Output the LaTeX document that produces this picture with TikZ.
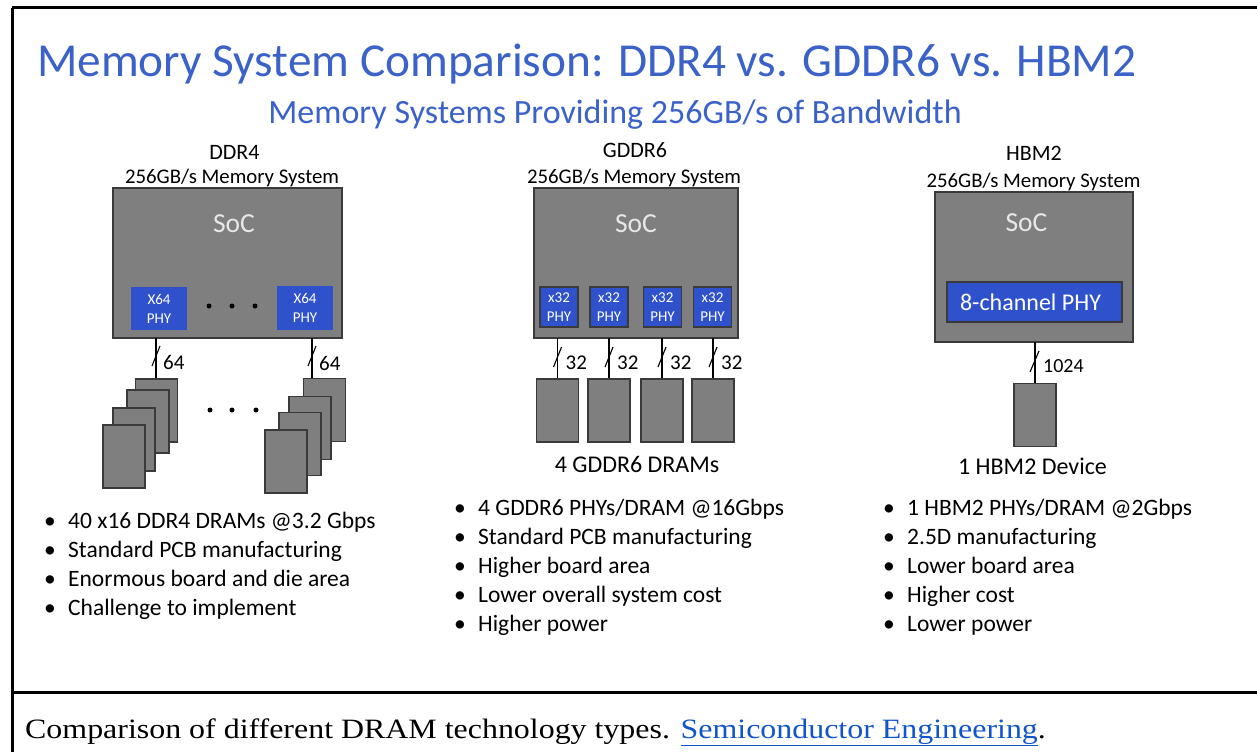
\documentclass[tikz,border=0pt]{standalone}
\usepackage{fontspec}
\setmainfont{Carlito}
\newfontfamily\capfont{Liberation Serif}[FakeStretch=1.14]
\definecolor{titleblue}{HTML}{3A62C8}
\definecolor{phyblue}{HTML}{2F52CC}
\definecolor{chipgray}{HTML}{7F7F7F}
\definecolor{edgegray}{HTML}{3A3A3A}
\definecolor{socword}{HTML}{E8E8E8}
\definecolor{linkblue}{HTML}{1155CC}
\newcommand{\fsz}[1]{\fontsize{#1}{#1}\selectfont}
\tikzset{
  frameline/.style={line width=3pt, black},
  socbox/.style={draw=edgegray, fill=chipgray, line width=1.4pt, inner sep=0pt},
  phybox/.style={draw=edgegray, fill=phyblue, line width=1.2pt, inner sep=0pt,
    text=white, align=center, font=\fontsize{15}{19}\selectfont},
  phyplain/.style={phybox, draw=none},
  drambox/.style={draw=edgegray, fill=chipgray, line width=1.4pt, inner sep=0pt,
    minimum width=42pt, minimum height=63pt},
  bus/.style={line width=1.2pt, black},
  slashmark/.style={line width=1.1pt, black},
  buslabel/.style={inner sep=0pt, anchor=west, font=\fsz{21}},
  txt/.style={inner sep=0pt, anchor=base},
  bulline/.style={inner sep=0pt, anchor=base west, font=\fsz{23.5}},
  socword/.style={inner sep=0pt, anchor=base, text=socword, font=\fsz{27.5}},
  dotmark/.style={circle, fill=black, inner sep=0pt, minimum size=5pt},
}
\newcommand{\bul}[1]{\makebox[24pt][l]{\textbullet}#1}
\begin{document}
\begin{tikzpicture}[x=1pt,y=-1pt]
\useasboundingbox (0,0) rectangle (1257,752);
\fill[white] (0,0) rectangle (1257,752);

% outer frame and caption separator
\draw[frameline] (12,8) -- (1257,8);
\draw[frameline] (12,8) -- (12,752);
\draw[frameline] (12,692) -- (1257,692);

% headings
\node[txt, anchor=base west, text=titleblue, font=\fsz{47.3}] (title) at (37,77)
  {Memory System Comparison: DDR4 vs. GDDR6 vs. HBM2};
\node[txt, text=titleblue, font=\fsz{34}] (subtitle) at (615,123)
  {Memory Systems Providing 256GB/s of Bandwidth};

% ---------------- DDR4 ----------------
\node[txt, font=\fsz{22}] (ddrname) at (234.5,159.5) {DDR4};
\node[txt, font=\fsz{20.8}] (ddrsys) at (232,183.5) {256GB/s Memory System};
\node[socbox, minimum width=229pt, minimum height=150pt] (ddrsoc) at (227.5,263) {};
\node[socword] (ddrsocw) at (234,232) {SoC};
\node[phyplain, minimum width=56pt, minimum height=43pt] (ddrphyA) at (159,308.5) {X64\\PHY};
\node[phyplain, minimum width=56pt, minimum height=44pt] (ddrphyB) at (305,308) {X64\\PHY};
\foreach \x [count=\i] in {209,232,255}
  \node[dotmark] (ddrdotA\i) at (\x,306) {};

% left DRAM stack, back to front
\node[drambox] (ddrA1) at (156.5,410.5) {};
\node[drambox] (ddrA2) at (148,421.5) {};
\node[drambox] (ddrA3) at (134,439.5) {};
\node[drambox] (ddrA4) at (124,456.5) {};
% right DRAM stack, back to front
\node[drambox] (ddrB1) at (324.5,410) {};
\node[drambox] (ddrB2) at (310,428) {};
\node[drambox] (ddrB3) at (300,444) {};
\node[drambox] (ddrB4) at (286,461.5) {};
\foreach \x [count=\i] in {210,232,256}
  \node[dotmark] (ddrdotB\i) at (\x,410) {};

\coordinate (ddrbusA) at (156,338);
\coordinate (ddrbusB) at (312,338);
\draw[bus] (ddrbusA) -- (ddrbusA |- ddrA1.north);
\draw[bus] (ddrbusB) -- (ddrbusB |- ddrB1.north);
\draw[slashmark] (152,366) -- (160,346);
\draw[slashmark] (308,366) -- (316,346);
\node[buslabel] (ddrwA) at (163,362.5) {64};
\node[buslabel] (ddrwB) at (319,363.5) {64};

\foreach \t [count=\i] in {40 x16 DDR4 DRAMs @3.2 Gbps, Standard PCB manufacturing,
  Enormous board and die area, Challenge to implement}
  \node[bulline] (ddrpt\i) at (44,{528+29*(\i-1)}) {\bul{\t}};

% ---------------- GDDR6 ----------------
\node[txt, font=\fsz{22}] (gdname) at (635,157.5) {GDDR6};
\node[txt, font=\fsz{20.8}] (gdsys) at (634,183.5) {256GB/s Memory System};
\node[socbox, minimum width=204pt, minimum height=150pt] (gdsoc) at (636,263) {};
\node[socword] (gdsocw) at (636,232) {SoC};
\foreach \x [count=\i] in {559,609,662.5,712.5}{
  \node[phybox, minimum width=38pt, minimum height=40pt] (gdphy\i) at (\x,307) {x32\\PHY};
}
\foreach \x [count=\i] in {557.5,609,662,713}{
  \node[drambox] (gddram\i) at (\x,410.5) {};
  \coordinate (gdbus\i) at (\x,338);
  \draw[bus] (gdbus\i) -- (gddram\i.north);
  \draw[slashmark] (\x-4,367) -- (\x+4,347);
  \node[buslabel] (gdw\i) at (\x+8,362.5) {32};
}
\node[txt, font=\fsz{24}] (gdcount) at (637,472) {4 GDDR6 DRAMs};

\foreach \t [count=\i] in {4 GDDR6 PHYs/DRAM @16Gbps, Standard PCB manufacturing,
  Higher board area, Lower overall system cost, Higher power}
  \node[bulline] (gdpt\i) at (454,{515+29.2*(\i-1)}) {\bul{\t}};

% ---------------- HBM2 ----------------
\node[txt, font=\fsz{22}] (hbname) at (1034,160.5) {HBM2};
\node[txt, font=\fsz{20.8}] (hbsys) at (1033.5,187.5) {256GB/s Memory System};
\node[socbox, minimum width=198pt, minimum height=150pt] (hbsoc) at (1034,267) {};
\node[socword] (hbsocw) at (1026.5,231) {SoC};
\node[phybox, minimum width=175pt, minimum height=40pt, font=\fsz{24}] (hbphy) at (1034.5,302)
  {8-channel PHY\hspace{8pt}};
\node[drambox] (hbdram) at (1035,415) {};
\coordinate (hbbus) at (1035,342);
\draw[bus] (hbbus) -- (hbdram.north);
\draw[slashmark] (1030,372) -- (1039,351);
\node[buslabel, font=\fsz{20}] (hbw) at (1043,366.5) {1024};
\node[txt, font=\fsz{24}] (hbcount) at (1032.5,474) {1 HBM2 Device};

\foreach \t [count=\i] in {1 HBM2 PHYs/DRAM @2Gbps, 2.5D manufacturing,
  Lower board area, Higher cost, Lower power}
  \node[bulline] (hbpt\i) at (883,{515+29*(\i-1)}) {\bul{\t}};

% ---------------- caption ----------------
\node[inner sep=0pt, anchor=base west, font=\capfont\fsz{28}] (caption) at (25,738)
  {Comparison of different DRAM technology types. \textcolor{linkblue}{\underline{Semiconductor Engineering}}.};
\end{tikzpicture}
\end{document}
